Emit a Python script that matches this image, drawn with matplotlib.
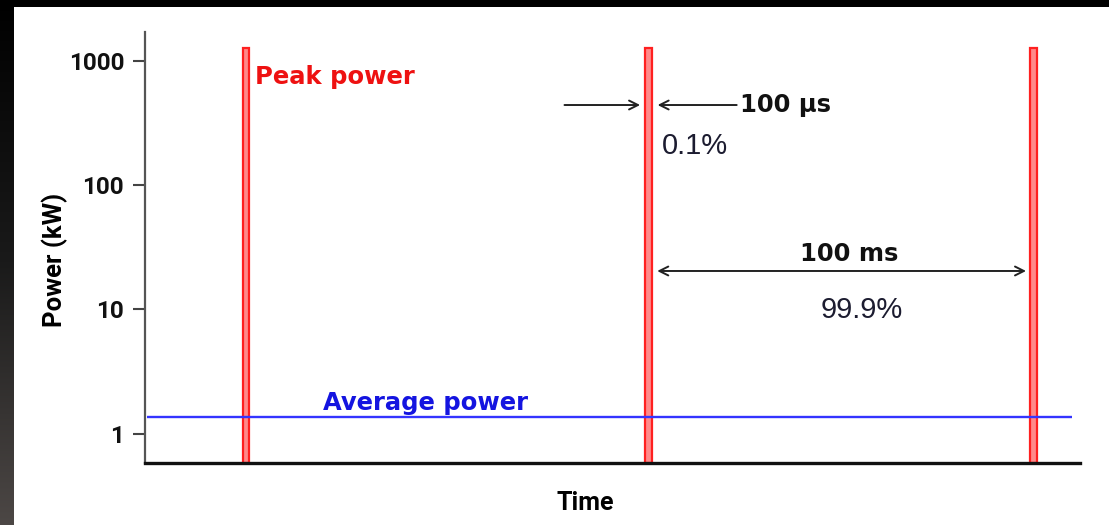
import numpy as np
import matplotlib
matplotlib.use("Agg")
import matplotlib.pyplot as plt
from matplotlib.patches import Rectangle

# pulse train: time of each pulse (ms) and power levels (kW)
pulse_times = [26.2, 130.9, 230.9]
peak_power = 1270
avg_power = 1.35
y_ticks = [1, 10, 100, 1000]
y_tick_labels = ["1", "10", "100", "1000"]


def main():
    fig = plt.figure(figsize=(11.09, 5.25), dpi=100)
    fig.patch.set_facecolor("white")
    ax = fig.add_axes([145 / 1109, 62 / 525, 935 / 1109, 431 / 525])

    ax.set_yscale("log")
    ax.set_xlim(0, 243)
    ax.set_ylim(0.58, 1714)

    # pulses drawn as thin outlined bars
    bottom = 0.58
    ax.bar(pulse_times, [peak_power - bottom] * len(pulse_times), bottom=bottom,
           width=1.7, color="#ff8a8a", edgecolor="#ff2020", linewidth=1.6, zorder=3)

    # average power level
    ax.hlines(avg_power, 0.5, 241, color="#3434ff", linewidth=1.7, zorder=4)

    ax.set_yticks(y_ticks)
    ax.set_yticklabels(y_tick_labels)
    ax.yaxis.set_minor_locator(matplotlib.ticker.NullLocator())
    ax.set_xticks([])
    ax.tick_params(axis="y", direction="out", length=9, width=1.5, color="#444444", pad=6)
    for lbl in ax.get_yticklabels():
        lbl.set_fontfamily("Roboto")
        lbl.set_fontweight("bold")
        lbl.set_fontsize(17.5)
        lbl.set_color("#111111")

    for side in ["top", "right"]:
        ax.spines[side].set_visible(False)
    ax.spines["left"].set_color("#555555")
    ax.spines["left"].set_linewidth(1.6)
    ax.spines["bottom"].set_color("#111111")
    ax.spines["bottom"].set_linewidth(2.4)
    ax.spines["bottom"].set_zorder(5)

    ax.set_xlabel("Time", fontfamily="Roboto", fontweight="bold", fontsize=18)
    ax.xaxis.set_label_coords(0.4706, -0.0928)
    ax.xaxis.label.set_va("center")
    ax.set_ylabel("Power (kW)", fontfamily="Roboto", fontweight="bold", fontsize=18.5)
    ax.yaxis.set_label_coords(-0.0963, 0.471)
    ax.yaxis.label.set_va("center")

    bold = dict(fontfamily="DejaVu Sans", fontweight="bold", fontsize=17.5)
    plain = dict(fontfamily="Liberation Sans", fontsize=21, color="#1c1c30")

    ax.text(0.1176, 0.8956, "Peak power", color="#ee1111", ha="left", va="center",
            transform=ax.transAxes, **bold)
    ax.text(0.1904, 0.1392, "Average power", color="#1414e0", ha="left", va="center",
            transform=ax.transAxes, **bold)

    # 100 us pulse width markers
    t2, t3 = pulse_times[1], pulse_times[2]
    arrow = dict(arrowstyle="->", color="#222222", lw=1.4, mutation_scale=16)
    ax.annotate("", xy=(t2 - 1.5, 0.8306), xytext=(108.3, 0.8306),
                xycoords=("data", "axes fraction"), textcoords=("data", "axes fraction"),
                arrowprops=arrow)
    ax.annotate("", xy=(t2 + 1.6, 0.8306), xytext=(154.5, 0.8306),
                xycoords=("data", "axes fraction"), textcoords=("data", "axes fraction"),
                arrowprops=arrow)
    ax.text(0.6364, 0.8306, "100 µs", color="#111111", ha="left", va="center",
            transform=ax.transAxes, **bold)
    ax.text(0.5529, 0.7355, "0.1%", ha="left", va="center", transform=ax.transAxes, **plain)

    # 100 ms period marker
    ax.annotate("", xy=(t3 - 1.2, 0.4455), xytext=(t2 + 1.5, 0.4455),
                xycoords=("data", "axes fraction"), textcoords=("data", "axes fraction"),
                arrowprops=dict(arrowstyle="<->", color="#222222", lw=1.4, mutation_scale=16))
    ax.text(0.7529, 0.4849, "100 ms", color="#111111", ha="center", va="center",
            transform=ax.transAxes, **bold)
    ax.text(0.7668, 0.355, "99.9%", ha="center", va="center", transform=ax.transAxes, **plain)

    # dark frame along the top and left edges
    fig.patches.append(Rectangle((0, 1 - 7 / 525), 1, 7 / 525, transform=fig.transFigure,
                                 facecolor="black", edgecolor="none", zorder=10))
    edge = fig.add_axes([0, 0, 14 / 1109, 1])
    grad = np.linspace(0, 1, 256).reshape(-1, 1)
    edge.imshow(grad, aspect="auto", cmap=matplotlib.colors.LinearSegmentedColormap.from_list(
        "edge", ["#000000", "#1a1a1a", "#4c4745"]), extent=[0, 1, 1, 0])
    edge.set_axis_off()

    fig.savefig("out.png", dpi=100)


if __name__ == "__main__":
    main()
